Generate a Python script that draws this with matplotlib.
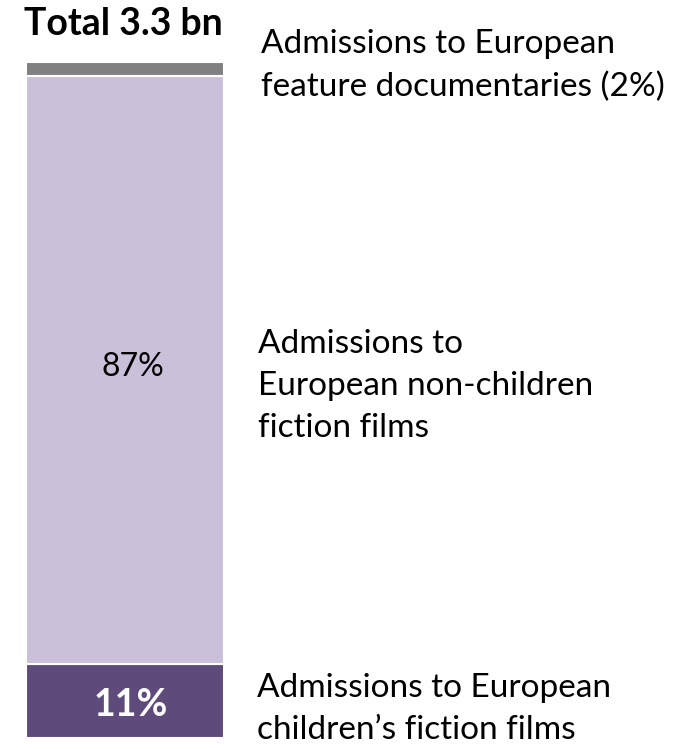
import matplotlib.pyplot as plt

plt.rcParams['font.family'] = ['Lato', 'DejaVu Sans']

# segment data, bottom to top
segments = ["children", "non-children", "documentaries"]
shares = [11, 87, 2]
colors = ["#5f4b7b", "#cbc0da", "#808080"]
inner_labels = ["11%", "87%", ""]
side_labels = ["Admissions to European\nchildren\u2019s fiction films",
               "Admissions to\nEuropean non-children\nfiction films",
               "Admissions to European\nfeature documentaries (2%)"]
title = "Total 3.3 bn"

W, H = 691, 749
fig = plt.figure(figsize=(W / 100, H / 100), dpi=100)
# bar area in pixels: x 26..224, y 62..738 (from top)
ax = fig.add_axes([26 / W, (H - 738) / H, (224 - 26) / W, (738 - 62) / H])
ax.set_xlim(0, 1)
ax.set_ylim(0, sum(shares))
ax.axis('off')

bottom = 0
for seg, val, col in zip(segments, shares, colors):
    ax.bar(0.5, val, width=1.0, bottom=bottom, color=col,
           edgecolor='white', linewidth=1.5)
    bottom += val


def px_to_data(ypix):
    return (738 - ypix) / (738 - 62) * sum(shares)


# labels inside the bar
ax.text(0.53, px_to_data(705), inner_labels[0], color='white', fontsize=27,
        fontweight='bold', ha='center', va='center')
ax.text(0.54, px_to_data(367), inner_labels[1], color='black', fontsize=23,
        ha='center', va='center')

# labels to the right
side_pos = [(257, 709), (258, 386), (261, 66)]
for lab, (xp, yp) in zip(side_labels, side_pos):
    ax.text((xp - 26) / (224 - 26), px_to_data(yp), lab, fontsize=24,
            ha='left', va='center', linespacing=1.52, clip_on=False)

fig.text(123 / W, 1 - 24 / H, title, fontsize=27, fontweight='bold',
         ha='center', va='center')

fig.savefig("out.png", dpi=100)
